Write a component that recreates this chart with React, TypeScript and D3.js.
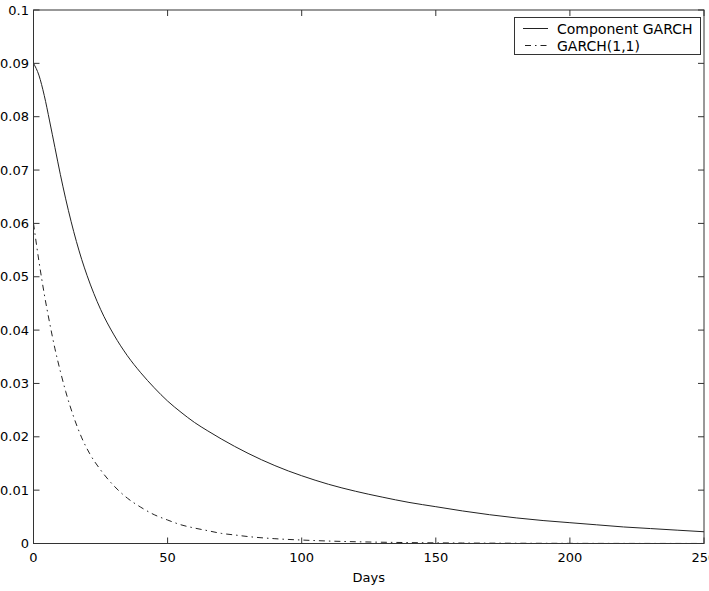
import React from "react";
import * as d3 from "d3";

const compDays = [0, 2, 4, 6, 8, 10, 12, 14, 16, 18, 20, 25, 30, 35, 40, 45, 50, 55, 60, 65, 70, 75, 80, 85, 90, 95, 100, 110, 120, 130, 140, 150, 160, 170, 180, 190, 200, 210, 220, 230, 240, 250];
const compValues = [0.09, 0.0878, 0.084, 0.0792, 0.0742, 0.0692, 0.0646, 0.0604, 0.0566, 0.0532, 0.0502, 0.0439, 0.0391, 0.0352, 0.032, 0.0292, 0.0267, 0.0246, 0.0227, 0.0211, 0.0196, 0.0182, 0.0169, 0.0157, 0.0146, 0.0136, 0.0127, 0.0111, 0.0098, 0.0087, 0.0077, 0.0069, 0.0061, 0.0054, 0.0048, 0.0043, 0.0039, 0.0035, 0.0031, 0.0028, 0.0025, 0.0022];

const garchDays = [0, 2, 4, 6, 8, 10, 12, 15, 18, 21, 25, 30, 35, 40, 45, 50, 55, 60, 65, 70, 75, 80, 90, 100, 110, 120, 140, 160, 180, 200, 250];
const garchValues = [0.06, 0.053, 0.0468, 0.0414, 0.0365, 0.0323, 0.0285, 0.0237, 0.0198, 0.0168, 0.0138, 0.0108, 0.0085, 0.0068, 0.0054, 0.0044, 0.0035, 0.0029, 0.0024, 0.0019, 0.0016, 0.0013, 0.0009, 0.00065, 0.00046, 0.00033, 0.00017, 0.00009, 0.00005, 0.00003, 0.00001];

const xTicks = [0, 50, 100, 150, 200, 250];
const yTicks = [0, 0.01, 0.02, 0.03, 0.04, 0.05, 0.06, 0.07, 0.08, 0.09, 0.1];
const seriesNames = ["Component GARCH", "GARCH(1,1)"];
const xLabel = "Days";

export default function App() {
  const W = 709, H = 591;
  const left = 33.5, right = 704, top = 10, bottom = 543.5;
  const x = d3.scaleLinear().domain([0, 250]).range([left, right]);
  const y = d3.scaleLinear().domain([0, 0.1]).range([bottom, top]);
  const line = d3.line<[number, number]>().x(d => x(d[0])).y(d => y(d[1])).curve(d3.curveMonotoneX);
  const compPath = line(compDays.map((d, i) => [d, compValues[i]]) as [number, number][]) || "";
  const garchPath = line(garchDays.map((d, i) => [d, garchValues[i]]) as [number, number][]) || "";
  const font = "DejaVu Sans, sans-serif";
  const tl = 6;
  const stroke = "#333";
  const dash = "6,4,1.5,4";
  return (
    <svg width={W} height={H} style={{ position: "absolute", left: 0, top: 0, background: "#fff" }}>
      <rect x={0} y={0} width={W} height={H} fill="#fff" />
      <defs>
        <clipPath id="plot">
          <rect x={left} y={top} width={right - left} height={bottom - top} />
        </clipPath>
      </defs>
      <g clipPath="url(#plot)">
        <path d={compPath} fill="none" stroke="#222" strokeWidth={1} />
        <path d={garchPath} fill="none" stroke="#222" strokeWidth={1} strokeDasharray={dash} />
      </g>
      {xTicks.map(t => (
        <g key={"x" + t}>
          <line x1={x(t)} x2={x(t)} y1={bottom} y2={bottom - tl} stroke={stroke} />
          <line x1={x(t)} x2={x(t)} y1={top} y2={top + tl} stroke={stroke} />
          <text x={x(t)} y={562} textAnchor="middle" fontFamily={font} fontSize={13} fill="#000">{t}</text>
        </g>
      ))}
      {yTicks.map(t => (
        <g key={"y" + t}>
          <line x1={left} x2={left + tl} y1={y(t)} y2={y(t)} stroke={stroke} />
          <line x1={right} x2={right - tl} y1={y(t)} y2={y(t)} stroke={stroke} />
          <text x={29} y={y(t)} dy="0.36em" textAnchor="end" fontFamily={font} fontSize={13} fill="#000">{d3.format("~g")(t)}</text>
        </g>
      ))}
      <rect x={left} y={top} width={right - left} height={bottom - top} fill="none" stroke={stroke} strokeWidth={1} />
      <text x={(left + right) / 2} y={582} textAnchor="middle" fontFamily={font} fontSize={13} fill="#000">{xLabel}</text>
      <g>
        <rect x={514.5} y={17.5} width={186} height={37} fill="#fff" stroke={stroke} strokeWidth={1} />
        <line x1={523} x2={548} y1={28.5} y2={28.5} stroke="#222" strokeWidth={1} />
        <line x1={523} x2={548} y1={45.5} y2={45.5} stroke="#222" strokeWidth={1} strokeDasharray={dash} strokeDashoffset={-2} />
        <text x={557} y={28.5} dy="0.36em" fontFamily={font} fontSize={14} fill="#000">{seriesNames[0]}</text>
        <text x={557} y={45.5} dy="0.36em" fontFamily={font} fontSize={14} fill="#000">{seriesNames[1]}</text>
      </g>
    </svg>
  );
}
